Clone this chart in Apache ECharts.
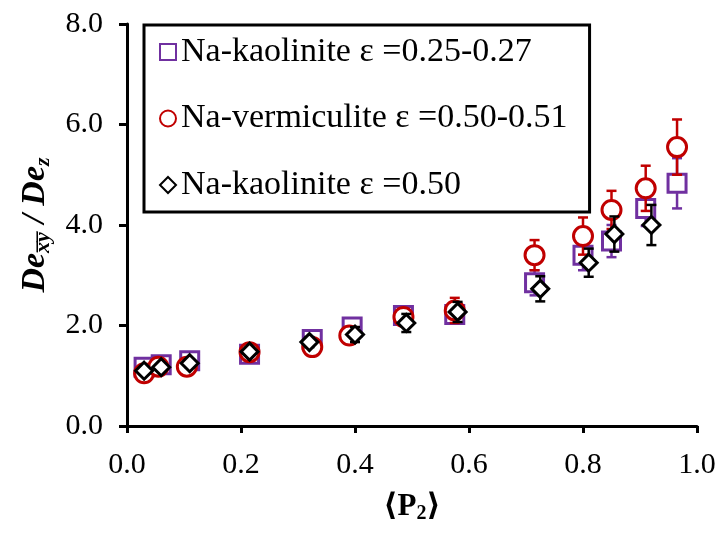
<!DOCTYPE html>
<html>
<head>
<meta charset="utf-8">
<script src="https://cdn.jsdelivr.net/npm/echarts@6/dist/echarts.min.js"></script>
<style>
  html, body { margin: 0; padding: 0; background: #fff; }
  #chart { width: 720px; height: 533px; }
</style>
</head>
<body>
<div id="chart"></div>
<script>
// Na-kaolinite eps = 0.25-0.27 (squares)
const kaoLowX = [0.03, 0.06, 0.11, 0.215, 0.325, 0.395, 0.485, 0.575, 0.715, 0.80, 0.85, 0.91, 0.965]
const kaoLowY = [1.17, 1.22, 1.30, 1.43, 1.72, 1.97, 2.20, 2.22, 2.85, 3.40, 3.68, 4.33, 4.83]
const kaoLowErr = [0.08, 0.08, 0.08, 0.08, 0.1, 0.1, 0.12, 0.15, 0.25, 0.3, 0.32, 0.35, 0.5]

// Na-vermiculite eps = 0.50-0.51 (circles)
const vermX = [0.03, 0.055, 0.105, 0.215, 0.325, 0.39, 0.485, 0.575, 0.715, 0.80, 0.85, 0.91, 0.965]
const vermY = [1.05, 1.18, 1.18, 1.47, 1.57, 1.80, 2.17, 2.30, 3.40, 3.78, 4.30, 4.73, 5.55]
const vermErr = [0.08, 0.08, 0.08, 0.08, 0.1, 0.1, 0.12, 0.25, 0.3, 0.37, 0.38, 0.45, 0.55]

// Na-kaolinite eps = 0.50 (diamonds)
const kaoHighX = [0.03, 0.06, 0.11, 0.215, 0.32, 0.40, 0.49, 0.58, 0.725, 0.81, 0.855, 0.92]
const kaoHighY = [1.10, 1.17, 1.25, 1.48, 1.67, 1.82, 2.05, 2.27, 2.73, 3.25, 3.82, 4.00]
const kaoHighErr = [0.08, 0.08, 0.08, 0.08, 0.1, 0.15, 0.18, 0.2, 0.25, 0.28, 0.35, 0.4]

const seriesNames = ['Na-kaolinite ε =0.25-0.27', 'Na-vermiculite ε =0.50-0.51', 'Na-kaolinite ε =0.50']
const xTicks = [0, 0.2, 0.4, 0.6, 0.8, 1.0]
const yTicks = [0, 2, 4, 6, 8]

const serif = '"Liberation Serif", "DejaVu Serif", serif'

const zip = (xs, ys, es) => xs.map((x, i) => [x, ys[i], es[i]])

const errorBars = (data, color, z) => ({
  type: 'custom',
  z: z,
  silent: true,
  data: data,
  encode: { x: 0, y: 1 },
  renderItem: (params, api) => {
    const x = api.value(0)
    const y = api.value(1)
    const e = api.value(2)
    const top = api.coord([x, y + e])
    const bot = api.coord([x, y - e])
    const w = 5
    const style = { stroke: color, lineWidth: 2.5 }
    return {
      type: 'group',
      children: [
        { type: 'line', shape: { x1: top[0], y1: top[1], x2: bot[0], y2: bot[1] }, style },
        { type: 'line', shape: { x1: top[0] - w, y1: top[1], x2: top[0] + w, y2: top[1] }, style },
        { type: 'line', shape: { x1: bot[0] - w, y1: bot[1], x2: bot[0] + w, y2: bot[1] }, style },
      ],
    }
  },
})

const marker = (name, data, symbol, size, color, z) => ({
  name: name,
  type: 'scatter',
  z: z,
  symbol: symbol,
  symbolSize: size,
  data: data.map((d) => [d[0], d[1]]),
  itemStyle: { color: '#fff', opacity: 1, borderColor: color, borderWidth: 3 },
})

const sq = zip(kaoLowX, kaoLowY, kaoLowErr)
const ci = zip(vermX, vermY, vermErr)
const di = zip(kaoHighX, kaoHighY, kaoHighErr)

const chart = echarts.init(document.getElementById('chart'))

chart.setOption({
  animation: false,
  backgroundColor: '#fff',
  grid: { left: 127, right: 23, top: 24, bottom: 107 },
  legend: {
    orient: 'vertical',
    left: 144,
    top: 25,
    borderColor: '#000',
    borderWidth: 3,
    padding: [8, 22, 8, 15],
    itemGap: 28.5,
    itemWidth: 16,
    itemHeight: 16,
    textStyle: { fontFamily: serif, fontSize: 34, lineHeight: 38, color: '#000' },
    data: seriesNames,
  },
  xAxis: {
    type: 'value',
    min: 0,
    max: 1,
    interval: 0.2,
    name: '{b|⟨P}{s|2}{b|⟩}',
    nameLocation: 'middle',
    nameGap: 64,
    nameTextStyle: {
      rich: {
        b: { fontFamily: serif, fontSize: 31, fontWeight: 'bold', color: '#000' },
        s: { fontFamily: serif, fontSize: 20, fontWeight: 'bold', color: '#000', padding: [14, 0, 0, 0] },
      },
    },
    splitLine: { show: false },
    axisLine: { lineStyle: { color: '#000', width: 3 } },
    axisTick: { length: 7, lineStyle: { color: '#000', width: 3 } },
    axisLabel: {
      margin: 24,
      fontFamily: serif,
      fontSize: 30,
      color: '#000',
      formatter: (v) => (xTicks.includes(+v.toFixed(1)) ? v.toFixed(1) : ''),
    },
  },
  yAxis: {
    type: 'value',
    min: 0,
    max: 8,
    interval: 2,
    name: '{b|De}{s|x̅y̅}{b| / De}{s|z}',
    nameLocation: 'middle',
    nameGap: 70,
    nameRotate: 90,
    nameTextStyle: {
      rich: {
        b: { fontFamily: serif, fontSize: 34, fontWeight: 'bold', fontStyle: 'italic', color: '#000' },
        s: { fontFamily: serif, fontSize: 22, fontWeight: 'bold', fontStyle: 'italic', color: '#000', padding: [16, 0, 0, 0] },
      },
    },
    splitLine: { show: false },
    axisLine: { show: true, lineStyle: { color: '#000', width: 3 } },
    axisTick: { show: true, length: 8, lineStyle: { color: '#000', width: 3 } },
    axisLabel: {
      margin: 24,
      fontFamily: serif,
      fontSize: 30,
      color: '#000',
      formatter: (v) => (yTicks.includes(v) ? v.toFixed(1) : ''),
    },
  },
  series: [
    errorBars(sq, '#7030A0', 1),
    marker(seriesNames[0], sq, 'rect', 18, '#7030A0', 2),
    errorBars(ci, '#C00000', 3),
    marker(seriesNames[1], ci, 'circle', 19, '#C00000', 4),
    errorBars(di, '#000000', 5),
    marker(seriesNames[2], di, 'diamond', [17, 17], '#000000', 6),
  ],
})
</script>
</body>
</html>
